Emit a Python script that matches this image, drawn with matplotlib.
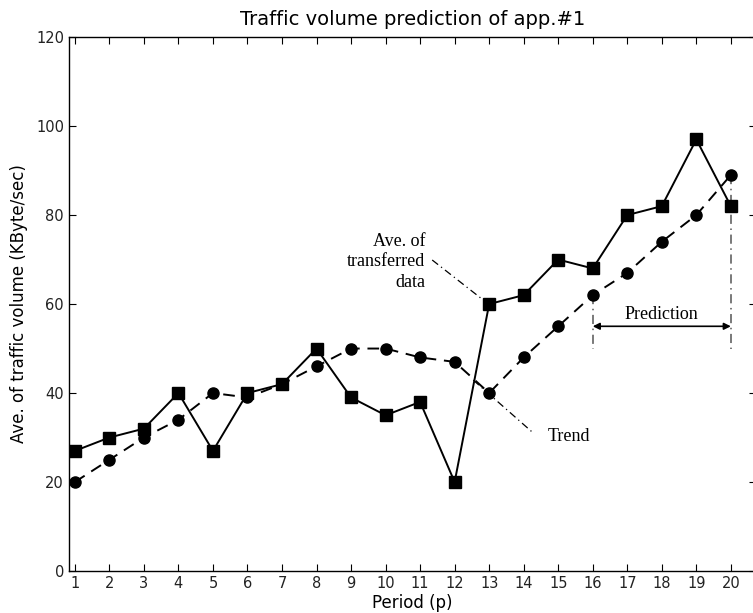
import numpy as np
import matplotlib.pyplot as plt

# Periods and observed / trend traffic volume (KByte/sec)
periods = np.arange(1, 21)
transferred = [27, 30, 32, 40, 27, 40, 42, 50, 39, 35,
               38, 20, 60, 62, 70, 68, 80, 82, 97, 82]
trend = [20, 25, 30, 34, 40, 39, 42, 46, 50, 50,
         48, 47, 40, 48, 55, 62, 67, 74, 80, 89]

pred_start, pred_end = 16, 20
pred_arrow_y = 55

SERIF = "Liberation Serif"

fig = plt.figure(figsize=(7.53, 6.13), dpi=100)
ax = fig.add_axes([0.0916, 0.0685, 0.912, 0.871])

ax.plot(periods, transferred, "-", color="black", lw=1.4,
        marker="s", markersize=8.5, zorder=3)
ax.plot(periods, trend, "--", color="black", lw=1.4, dashes=(6, 4),
        marker="o", markersize=8, zorder=3)

# callout for the transferred-data series
ax.plot([11.35, 12.83], [69.9, 60.9], color="black", lw=0.9,
        ls=(0, (6, 3, 1, 3)))
ax.text(11.15, 69.5, "Ave. of\ntransferred\ndata", ha="right", va="center",
        fontsize=13, family=SERIF, linespacing=1.25)

# callout for the trend series
ax.plot([12.54, 14.28], [42.9, 31.0], color="black", lw=0.9,
        ls=(0, (6, 3, 1, 3)))
ax.text(14.7, 30.3, "Trend", ha="left", va="center",
        fontsize=13, family=SERIF)

# prediction window
ax.plot([pred_start, pred_start], [trend[pred_start - 1], 50],
        color="#555555", lw=1.1, ls=(0, (6, 3, 1, 3)))
ax.plot([pred_end, pred_end], [trend[pred_end - 1], 50],
        color="#555555", lw=1.1, ls=(0, (6, 3, 1, 3)))
ax.annotate("", xy=(pred_end, pred_arrow_y), xytext=(pred_start, pred_arrow_y),
            arrowprops=dict(arrowstyle="<|-|>", color="black", lw=1.2,
                            mutation_scale=10, shrinkA=0, shrinkB=0))
ax.text((pred_start + pred_end) / 2, 57.6, "Prediction", ha="center",
        va="center", fontsize=13, family=SERIF)

ax.set_xlim(0.83, 20.72)
ax.set_ylim(0, 120)
ax.set_xticks(periods)
ax.set_yticks(np.arange(0, 121, 20))
ax.tick_params(direction="in", top=True, right=True, length=5,
               labelsize=10.5, labelcolor="#222222")
for s in ax.spines.values():
    s.set_linewidth(1.0)

ax.set_xlabel("Period (p)", fontsize=12, labelpad=2)
ax.set_ylabel("Ave. of traffic volume (KByte/sec)", fontsize=12, labelpad=6)
ax.set_title("Traffic volume prediction of app.#1", fontsize=14, pad=9)

fig.savefig("out.png", dpi=100)
